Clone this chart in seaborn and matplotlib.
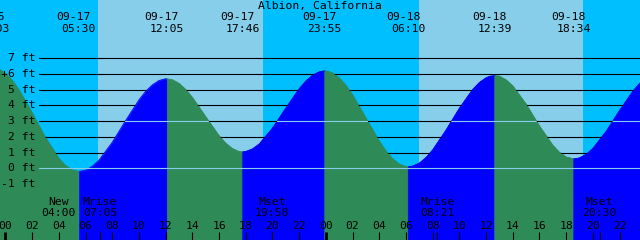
import numpy as np
import pandas as pd
import matplotlib
matplotlib.use("Agg")
import matplotlib.pyplot as plt
import matplotlib.transforms as mtransforms
import seaborn as sns

# ---------------- data ----------------
title = "Albion, California"

# tide height (ft); hours counted from 09-17 00:00
hours = [-1, -0.95, -0.5, 0, 0.5, 1, 2, 3, 4, 4.5, 5, 5.5, 6, 6.5, 7, 8, 9,
         10, 10.5, 11, 11.5, 12, 12.083, 12.5, 13, 13.5, 14, 15, 16, 16.5,
         17, 17.5, 17.767, 18, 18.5, 19, 20, 21, 22, 22.5, 23, 23.5, 23.917,
         24, 24.5, 25, 25.5, 26, 27, 28, 28.5, 29, 29.5, 30, 30.167, 30.5,
         31, 31.5, 32, 33, 34, 35, 35.5, 36, 36.3, 36.65, 37, 37.5, 38, 39,
         40, 41, 41.5, 42, 42.567, 43, 43.5, 44, 45, 46, 47, 47.5, 48]
heights_ft = [6.40, 6.40, 6.32, 6.05, 5.61, 5.02, 3.54, 1.96, 0.64, 0.18,
              -0.10, -0.20, -0.12, 0.13, 0.52, 1.66, 3.04,
              4.36, 4.90, 5.31, 5.59, 5.70, 5.70, 5.64, 5.41, 5.02, 4.51,
              3.28, 2.07, 1.60,
              1.26, 1.07, 1.05, 1.07, 1.23, 1.54, 2.55, 3.83, 5.06, 5.55,
              5.92, 6.14, 6.20,
              6.20, 6.07, 5.76, 5.28, 4.68, 3.21, 1.74, 1.11, 0.61, 0.27,
              0.11, 0.10, 0.14,
              0.33, 0.68, 1.17, 2.43, 3.82, 5.02, 5.46, 5.76, 5.86, 5.90,
              5.86, 5.63, 5.25, 4.09,
              2.70, 1.47, 1.02, 0.72, 0.60, 0.66, 0.89, 1.26, 2.35, 3.68,
              4.91, 5.40, 5.75]

event_dates = ["09-16", "09-17", "09-17", "09-17", "09-17", "09-18", "09-18", "09-18"]
event_times = ["23:03", "05:30", "12:05", "17:46", "23:55", "06:10", "12:39", "18:34"]
event_kind = ["high", "low", "high", "low", "high", "low", "high", "low"]

sun_dates = ["09-17", "09-17", "09-18", "09-18"]
sun_times = ["06:56", "19:17", "06:58", "19:16"]   # sunrise, sunset, ...

moon_labels = ["New", "Mrise", "Mset", "Mrise", "Mset"]
moon_dates = ["09-17", "09-17", "09-17", "09-18", "09-18"]
moon_times = ["04:00", "07:05", "19:58", "08:21", "20:30"]

y_labels_ft = [7, 6, 5, 4, 3, 2, 1, 0, -1]
grid_ft = [7, 6, 5, 4, 3, 2, 1]
ref_ft = [3, 0]
x_tick_hours = list(range(0, 49, 2))

# ---------------- style ----------------
NIGHT = "#00BFFF"
DAY = "#87CEEB"
RISE = "#0000FF"
FALL = "#2E8B57"
REF = "#87CEEB"
FONT = "DejaVu Sans Mono"
FS = 8.2

sns.set_style("white")
plt.rcParams["font.family"] = [FONT, "DejaVu Sans"]

day_index = {"09-16": -1, "09-17": 0, "09-18": 1}


def to_hours(date, hhmm):
    hh, mm = hhmm.split(":")
    return 24 * day_index[date] + int(hh) + int(mm) / 60.0


ev_h = [to_hours(d, t) for d, t in zip(event_dates, event_times)]
sun_h = [to_hours(d, t) for d, t in zip(sun_dates, sun_times)]
moon_h = [to_hours(d, t) for d, t in zip(moon_dates, moon_times)]

W, H = 640, 240
fig = plt.figure(figsize=(W / 100, H / 100), dpi=100)
ax = fig.add_axes([0, 0, 1, 1])
ax.set_axis_off()
X0, X1 = -0.41, 47.53
Y0, Y1 = -4.56, 10.71
ax.set_xlim(X0, X1)
ax.set_ylim(Y0, Y1)

# sky bands (night/day)
edges = [X0 - 5] + sun_h + [X1 + 5]
for i in range(len(edges) - 1):
    ax.axvspan(edges[i], edges[i + 1], color=NIGHT if i % 2 == 0 else DAY,
               lw=0, zorder=0)

t = np.array(hours)
v = np.array(heights_ft)

# segments between tide extremes: rising -> blue, falling -> green
bounds = [t.min()] + ev_h + [t.max()]
kinds_next = event_kind + ["high"]
TOL = 0.01
rows = []
for i in range(len(bounds) - 1):
    a, b = bounds[i], bounds[i + 1]
    m = (t >= a - TOL) & (t <= b + TOL)
    if m.sum() < 2:
        continue
    rising = kinds_next[i] == "high"
    c = RISE if rising else FALL
    ax.fill_between(t[m], v[m], Y0 - 5, facecolor=c, edgecolor=c, lw=0.4,
                    zorder=2)
    for tt, vv in zip(t[m], v[m]):
        rows.append({"hour": tt, "ft": vv, "seg": i,
                     "dir": "rise" if rising else "fall"})
df = pd.DataFrame(rows)
sns.lineplot(data=df, x="hour", y="ft", hue="dir", units="seg",
             estimator=None, palette={"rise": RISE, "fall": FALL},
             legend=False, lw=0.6, ax=ax, zorder=2.5)
ax.set_xlim(X0, X1)
ax.set_ylim(Y0, Y1)

# clip path = sky area above the curve
sky = ax.fill_between(t, v, Y1 + 20, facecolor="none", edgecolor="none", lw=0)
sky_path = sky.get_paths()[0]

xstart = 39 / W
for y in ref_ft:
    ax.axhline(y, xmin=xstart, xmax=1, color=REF, lw=0.8, zorder=3)
for y in grid_ft:
    ln = ax.axhline(y, xmin=xstart, xmax=1, color="black", lw=0.8, zorder=4)
    ln.set_clip_path(sky_path, ax.transData)

# y labels
ytrans = mtransforms.blended_transform_factory(ax.transAxes, ax.transData)
for y in y_labels_ft:
    ax.text(35.5 / W, y, f"{y} ft", transform=ytrans, ha="right", va="center",
            fontsize=FS, color="black", zorder=6)
ax.text(4.3 / W, 6, "+", transform=ytrans, ha="center", va="center",
        fontsize=FS, color="black", zorder=6)

# title and tide event labels
ax.text(0.5, 1 - 6.5 / H, title, transform=ax.transAxes, ha="center",
        va="center", fontsize=FS, color="black", zorder=6)
xtrans = ax.get_xaxis_transform()
for d, tm, h in zip(event_dates, event_times, ev_h):
    ax.annotate(d, xy=(h, 1 - 17.5 / H), xycoords=xtrans, xytext=(-5, 0),
                textcoords="offset pixels", ha="center", va="center",
                fontsize=FS, color="black", annotation_clip=False, zorder=6)
    ax.annotate(tm, xy=(h, 1 - 29.5 / H), xycoords=xtrans, xytext=(0, 0),
                textcoords="offset pixels", ha="center", va="center",
                fontsize=FS, color="black", annotation_clip=False, zorder=6)

# moon labels
for lab, tm, h in zip(moon_labels, moon_times, moon_h):
    ax.text(h, 1 - 202 / H, lab, transform=xtrans, ha="center", va="center",
            fontsize=FS, color="black", zorder=6)
    ax.text(h, 1 - 213.5 / H, tm, transform=xtrans, ha="center", va="center",
            fontsize=FS, color="black", zorder=6)

# hour ticks
for h in x_tick_hours:
    lw = 2.0 if h % 24 == 0 else 0.8
    ax.vlines(h, 0, 8 / H, transform=xtrans, color="black", lw=lw, zorder=6)
    ax.text(h, 1 - 226 / H, f"{h % 24:02d}", transform=xtrans, ha="center",
            va="center", fontsize=FS, color="black", zorder=6)
for h in moon_h[1:]:
    ax.vlines(h, 0, 8 / H, transform=xtrans, color="black", lw=0.8, zorder=6)

fig.savefig("out.png", dpi=100)
